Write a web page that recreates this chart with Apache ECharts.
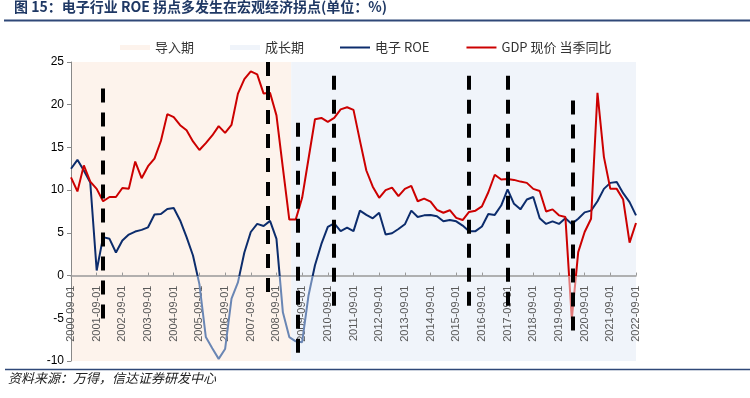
<!DOCTYPE html>
<html>
<head>
<meta charset="utf-8">
<script src="https://cdn.jsdelivr.net/npm/echarts@6/dist/echarts.min.js"></script>
<style>
  html, body { margin: 0; padding: 0; background: #fff; }
  #chart { width: 750px; height: 398px; }
</style>
</head>
<body>
<div id="chart"></div>
<script>
// x轴刻度标签（每4个季度一个）
const tickLabels = [
  '2000-09-01', '2001-09-01', '2002-09-01', '2003-09-01', '2004-09-01', '2005-09-01',
  '2006-09-01', '2007-09-01', '2008-09-01', '2009-09-01', '2010-09-01', '2011-09-01',
  '2012-09-01', '2013-09-01', '2014-09-01', '2015-09-01', '2016-09-01', '2017-09-01',
  '2018-09-01', '2019-09-01', '2020-09-01', '2021-09-01', '2022-09-01'
];

// 电子 ROE，季度，2000-09 ~ 2022-09
const roe = [
  12.5, 13.55, 12.3, 10.9, 0.6, 4.5, 4.3, 2.7, 4.1, 4.8,
  5.15, 5.35, 5.65, 7.15, 7.2, 7.8, 7.9, 6.45, 4.5, 2.35,
  -1.0, -7.2, -8.5, -9.75, -8.6, -2.7, -0.8, 2.7, 5.1, 6.05,
  5.8, 6.4, 4.3, -4.3, -7.2, -7.7, -7.8, -2.3, 1.2, 3.7,
  5.7, 6.1, 5.2, 5.6, 5.2, 7.6, 7.1, 6.7, 7.35, 4.8,
  4.95, 5.45, 6.0, 7.6, 6.85, 7.05, 7.1, 6.95, 6.35, 6.5,
  6.35, 5.85, 5.2, 5.2, 5.75, 7.2, 7.1, 8.2, 10.1, 8.4,
  7.75, 8.9, 9.2, 6.7, 6.05, 6.35, 6.05, 6.7, 6.05, 6.65,
  7.4, 7.6, 8.7, 10.15, 10.85, 10.95, 9.65, 8.6, 7.05
];

// GDP 现价 当季同比
const gdp = [
  11.5, 9.85, 12.9, 11.0, 10.15, 8.7, 9.2, 9.2, 10.25, 10.15,
  13.35, 11.4, 12.8, 13.7, 15.75, 18.9, 18.55, 17.6, 17.0, 15.7,
  14.7, 15.5, 16.4, 17.5, 16.7, 17.65, 21.3, 23.0, 23.9, 23.55,
  21.3, 21.4, 18.75, 12.6, 6.55, 6.55, 9.1, 13.7, 18.3, 18.45,
  18.0, 18.45, 19.45, 19.7, 19.4, 15.8, 12.3, 10.4, 9.1, 10.0,
  10.3, 9.3, 10.15, 10.5, 8.7, 9.0, 8.65, 7.7, 7.35, 7.65,
  6.75, 6.5, 7.45, 7.6, 8.1, 9.75, 11.8, 11.25, 11.3, 11.2,
  11.0, 10.85, 10.15, 9.9, 7.5, 7.75, 7.05, 6.85, -5.1, 2.75,
  5.1, 6.65, 21.4, 13.9, 10.15, 10.15, 8.9, 3.85, 6.15
];

// 阶段背景（按季度序号）
const phaseNames = ['导入期', '成长期'];
const phaseStart = [0, 34.3];
const phaseEnd = [34.3, 88];

// 拐点竖虚线：位置(季度序号)、上端、下端
const turnX = [5.0, 22.7, 30.7, 35.3, 40.9, 62.0, 68.0, 78.2];
const turnTop = [21.9, 22.6, 25.0, 17.9, 23.4, 23.4, 23.4, 20.5];
const turnBottom = [-5.5, -11.2, -2.5, -9.8, -4.1, -4.1, -4.1, -6.8];

const NAVY = '#0c2c6c';
const RED = '#cc0000';
const phaseColors = ['#fdf3ec', '#f0f4fa'];

// 网格与纵轴范围
const GRID = { left: 71, right: 114, top: 62, bottom: 37 };
const Y_MIN = -10, Y_MAX = 25;
const H = 398;

var chartDom = document.getElementById('chart');
var myChart = echarts.init(chartDom);
var option;

// 0 线位置（像素），横轴移到 0 处；0 线以下折线颜色变浅
const gridH = H - GRID.top - GRID.bottom;
const zeroY = GRID.top + gridH * Y_MAX / (Y_MAX - Y_MIN);
const xAxisOffset = -(H - GRID.bottom - zeroY);
function splitColor(top, bottom) {
  const t = zeroY / H;
  return new echarts.graphic.LinearGradient(0, 0, 0, H, [
    { offset: 0, color: top },
    { offset: t, color: top },
    { offset: t, color: bottom },
    { offset: 1, color: bottom }
  ], true);
}

const phaseSeries = phaseNames.map((name, k) => ({
  name: name,
  type: 'line',
  data: [],
  color: phaseColors[k],
  z: 1,
  markArea: {
    silent: true,
    itemStyle: { color: phaseColors[k] },
    data: [[{ xAxis: phaseStart[k] }, { xAxis: phaseEnd[k] }]]
  }
}));

option = {
  animation: false,
  title: [
    {
      text: '图 15：电子行业 ROE 拐点多发生在宏观经济拐点(单位：%)',
      left: 14,
      top: 0,
      padding: 0,
      textStyle: {
        fontSize: 14,
        fontWeight: 'bold',
        color: '#1f3864',
        fontFamily: 'Noto Sans CJK SC'
      }
    },
    {
      text: '资料来源：万得，信达证券研发中心',
      left: 8,
      top: 372,
      padding: 0,
      textStyle: {
        fontSize: 13,
        fontWeight: 'normal',
        fontStyle: 'italic',
        color: '#222',
        fontFamily: 'Noto Sans CJK SC'
      }
    }
  ],
  graphic: [
    { type: 'line', shape: { x1: 4, y1: 20.5, x2: 750, y2: 20.5 }, style: { stroke: '#2f4878', lineWidth: 2 } },
    { type: 'line', shape: { x1: 5, y1: 369.5, x2: 750, y2: 369.5 }, style: { stroke: '#2f4878', lineWidth: 1.5 } }
  ],
  legend: [
    {
      data: phaseNames,
      left: 120,
      top: 41,
      padding: 0,
      icon: 'rect',
      itemWidth: 30,
      itemHeight: 5,
      itemGap: 36,
      textStyle: { fontSize: 13, color: '#333', fontFamily: 'Noto Sans CJK SC' }
    },
    {
      data: ['电子 ROE', 'GDP 现价 当季同比'],
      left: 340,
      top: 41,
      padding: 0,
      icon: 'rect',
      itemWidth: 30,
      itemHeight: 2,
      itemGap: 37,
      textStyle: { fontSize: 13, color: '#333', fontFamily: 'Noto Sans CJK SC' }
    }
  ],
  grid: Object.assign({ outerBoundsMode: 'none', containLabel: false }, GRID),
  xAxis: {
    type: 'value',
    min: 0,
    max: 88,
    interval: 4,
    z: 2,
    offset: xAxisOffset,
    splitLine: { show: false },
    axisLine: { show: true, onZero: false, lineStyle: { color: '#999', width: 1.5 } },
    axisTick: { show: true, inside: true, length: 3, lineStyle: { color: '#999' } },
    axisLabel: {
      rotate: 90,
      margin: 10,
      fontSize: 11,
      color: '#595959',
      fontFamily: "'Liberation Sans Narrow', 'Liberation Sans', Arial",
      formatter: (v) => tickLabels[Math.round(v / 4)]
    }
  },
  yAxis: {
    type: 'value',
    min: Y_MIN,
    max: Y_MAX,
    interval: 5,
    z: 2,
    splitLine: { show: false },
    axisLine: { show: true, onZero: false, lineStyle: { color: '#888' } },
    axisTick: { show: true, length: 4, lineStyle: { color: '#888' } },
    axisLabel: { fontSize: 12, color: '#000', margin: 7, fontFamily: "'Liberation Sans', Arial" }
  },
  series: [
    ...phaseSeries,
    {
      name: '电子 ROE',
      type: 'line',
      color: NAVY,
      symbol: 'none',
      z: 3,
      lineStyle: { width: 2, color: splitColor(NAVY, '#6a86b4') },
      data: roe.map((v, i) => [i, v])
    },
    {
      name: 'GDP 现价 当季同比',
      type: 'line',
      color: RED,
      symbol: 'none',
      z: 3,
      lineStyle: { width: 2, color: splitColor(RED, '#e27a7a') },
      data: gdp.map((v, i) => [i, v])
    },
    {
      name: '拐点',
      type: 'line',
      data: [],
      clip: false,
      z: 5,
      markLine: {
        silent: true,
        symbol: ['none', 'none'],
        label: { show: false },
        lineStyle: { color: '#000', width: 4, type: [14, 10], cap: 'butt' },
        data: turnX.map((x, k) => [
          { coord: [x, turnTop[k]] },
          { coord: [x, turnBottom[k]] }
        ])
      }
    }
  ]
};

option && myChart.setOption(option);
</script>
</body>
</html>
